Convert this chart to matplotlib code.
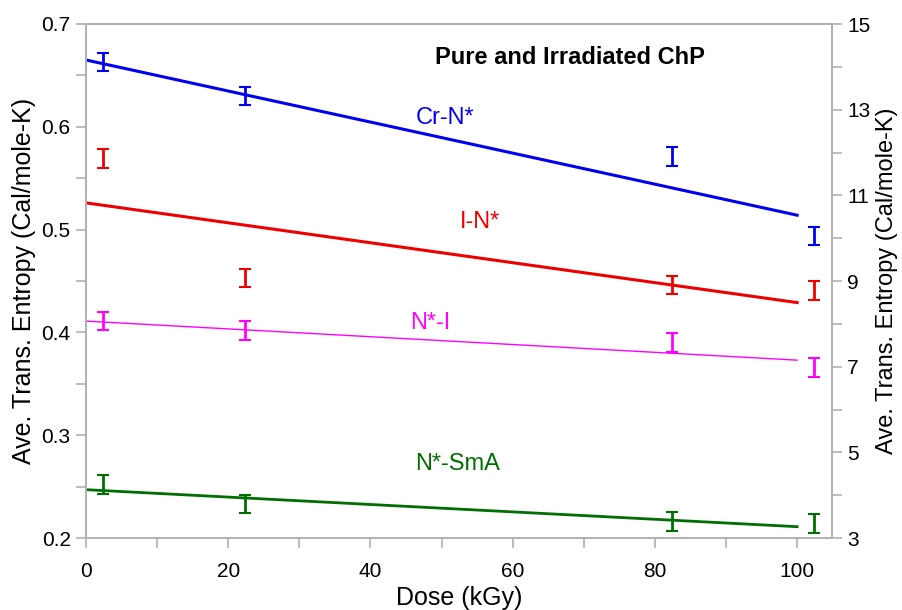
import matplotlib.pyplot as plt
from matplotlib.ticker import MultipleLocator

plt.rcParams['font.family'] = ['Liberation Sans', 'DejaVu Sans']

# measured points (dose offset slightly as in the original)
dose = [2.4, 22.4, 82.4, 102.3]
cr_n = [0.663, 0.630, 0.571, 0.494]
i_n = [0.569, 0.453, 0.446, 0.441]
n_i = [0.411, 0.402, 0.390, 0.366]
n_sma = [0.252, 0.233, 0.216, 0.214]
err = 0.009

# linear fits, end points at 0 and 100 kGy
fit_x = [0, 100]
cr_n_fit = [0.665, 0.514]
i_n_fit = [0.526, 0.429]
n_i_fit = [0.411, 0.373]
n_sma_fit = [0.247, 0.211]

right_ticks = [3, 5, 7, 9, 11, 13, 15]
right_minor = [4, 6, 8, 10, 12, 14]

series = [
    (cr_n, cr_n_fit, '#0000ee', 2.2, 'Cr-N*', (50.5, 0.609)),
    (i_n, i_n_fit, '#ee0000', 2.2, 'I-N*', (55.4, 0.507)),
    (n_i, n_i_fit, '#ff00ff', 1.0, 'N*-I', (48.4, 0.409)),
    (n_sma, n_sma_fit, '#006e00', 2.0, 'N*-SmA', (52.2, 0.272)),
]

fig = plt.figure(figsize=(9.03, 6.10), dpi=100)
ax = fig.add_axes([86 / 903, 72 / 610, 746 / 903, 514 / 610])

for pts, fit, col, lw, name, pos in series:
    ax.plot(fit_x, fit, color=col, lw=lw)
    ax.errorbar(dose, pts, yerr=err, fmt='none', ecolor=col, elinewidth=2,
                capsize=4, capthick=1.5)
    ax.text(pos[0], pos[1], name, color=col, fontsize=17, ha='center', va='center')

ax.text(68, 0.667, 'Pure and Irradiated ChP', fontsize=17, fontweight='bold',
        ha='center', va='center')

ax.set_xlim(0, 104.9)
ax.set_ylim(0.2, 0.7)
ax.set_xticks([0, 20, 40, 60, 80, 100])
ax.xaxis.set_minor_locator(MultipleLocator(10))
ax.yaxis.set_major_locator(MultipleLocator(0.1))
ax.yaxis.set_minor_locator(MultipleLocator(0.05))
ax.set_xlabel('Dose (kGy)', fontsize=18, labelpad=4)
ax.set_ylabel('Ave. Trans. Entropy (Cal/mole-K)', fontsize=18, labelpad=4)

ax2 = ax.twinx()
ax2.set_ylim(3, 15)
ax2.set_yticks(right_ticks)
ax2.set_yticks(right_minor, minor=True)
ax2.set_ylabel('Ave. Trans. Entropy (Cal/mole-K)', fontsize=17, labelpad=4)

for a in (ax, ax2):
    for s in a.spines.values():
        s.set_color('#b0b0b0')
        s.set_linewidth(1.2)
    a.tick_params(which='both', direction='out', color='#b0b0b0', labelsize=15,
                  width=1.2)
    a.tick_params(which='major', length=7, pad=4)
    a.tick_params(which='minor', length=7)
ax.tick_params(axis='x', pad=10)

fig.savefig('out.png', dpi=100)
